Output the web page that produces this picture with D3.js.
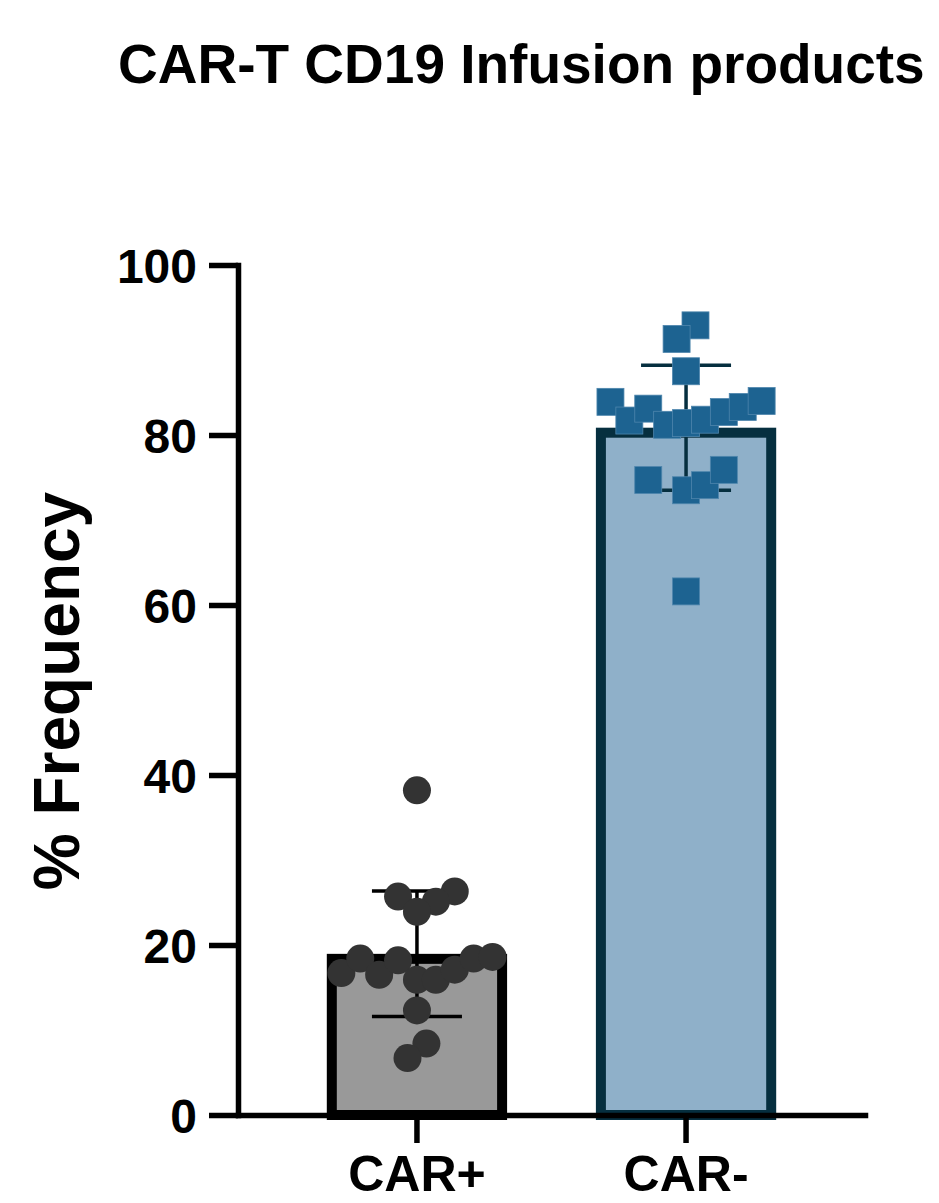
<!DOCTYPE html>
<html>
<head>
<meta charset="utf-8">
<script src="https://cdn.jsdelivr.net/npm/d3@7"></script>
<style>
  body { margin: 0; background: #fff; }
  svg text { font-family: "Liberation Sans", Arial, sans-serif; font-weight: bold; }
</style>
</head>
<body>
<svg id="chart" width="939" height="1203"></svg>
<script>
var categories = ["CAR+", "CAR-"];

// % frequency of each infusion product
var carPos = [38.2, 25.7, 26.3, 25.1, 23.9, 16.7, 18.4, 16.5, 18.2, 15.9, 15.9, 17.1, 18.4, 18.6, 12.3, 8.4, 6.7];
var carNeg = [92.9, 91.3, 87.5, 83.9, 81.7, 83.1, 81.2, 81.4, 81.8, 82.7, 83.3, 84.0, 74.7, 73.5, 74.1, 75.9, 61.6];

// scatter spread slot of each point (GraphPad style column scatter)
var carPosSlot = [0, -1, 2, 1, 0, -4, -3, -2, -1, 0, 1, 2, 3, 4, 0, 0.5, -0.5];
var carNegSlot = [0.5, -0.5, 0, -4, -3, -2, -1, 0, 1, 2, 3, 4, -2, 0, 1, 2, 0];

var yTicks = [0, 20, 40, 60, 80, 100];

var groups = [
  { name: categories[0], values: carPos, slots: carPosSlot, fill: "#999999", stroke: "#000000", dot: "#333333", shape: "circle" },
  { name: categories[1], values: carNeg, slots: carNegSlot, fill: "#8fb0c9", stroke: "#062f3f", dot: "#1d6391", shape: "square" }
];

var svg = d3.select("#chart");

var x = d3.scaleBand()
  .domain(categories)
  .range([238, 865])
  .paddingInner(0.33)
  .paddingOuter(0.33);

var y = d3.scaleLinear().domain([0, 100]).range([1115, 265]);

var slotX = d3.scaleLinear().domain([-1, 1]).range([-18.9, 18.9]);

// title
svg.append("text")
  .attr("x", 118)
  .attr("y", 83)
  .attr("font-size", 55)
  .text("CAR-T CD19 Infusion products");

// y label
svg.append("text")
  .attr("transform", "translate(79," + 691 + ") rotate(-90)")
  .attr("text-anchor", "middle")
  .attr("font-size", 64)
  .text("% Frequency");

var bw = 10;
groups.forEach(function (g) {
  var m = d3.mean(g.values);
  var sd = d3.deviation(g.values);
  var cx = x(g.name) + x.bandwidth() / 2;

  // bar, border drawn inside
  svg.append("rect")
    .attr("x", x(g.name) + bw / 2)
    .attr("y", y(m) + bw / 2)
    .attr("width", x.bandwidth() - bw)
    .attr("height", y(0) - y(m) - bw / 2)
    .attr("fill", g.fill)
    .attr("stroke", g.stroke)
    .attr("stroke-width", bw);

  // error bar (mean +/- SD)
  var eb = svg.append("g").attr("stroke", g.stroke).attr("stroke-width", 3.5);
  eb.append("line").attr("x1", cx).attr("x2", cx).attr("y1", y(m - sd)).attr("y2", y(m + sd));
  [m - sd, m + sd].forEach(function (v) {
    eb.append("line").attr("x1", cx - 45).attr("x2", cx + 45).attr("y1", y(v)).attr("y2", y(v));
  });

  // points
  var pts = g.values.map(function (v, i) { return { v: v, s: g.slots[i] }; });
  var gp = svg.append("g").attr("fill", g.dot);
  if (g.shape === "circle") {
    gp.selectAll("circle").data(pts).join("circle")
      .attr("cx", function (d) { return cx + slotX(d.s); })
      .attr("cy", function (d) { return y(d.v); })
      .attr("r", 14);
  } else {
    var s = 27;
    gp.selectAll("rect").data(pts).join("rect")
      .attr("x", function (d) { return cx + slotX(d.s) - s / 2; })
      .attr("y", function (d) { return y(d.v) - s / 2; })
      .attr("width", s)
      .attr("height", s)
      .attr("stroke", "#4f86ad")
      .attr("stroke-width", 0.8);
  }
});

// axes
var yAxis = svg.append("g")
  .attr("transform", "translate(238,0)")
  .call(d3.axisLeft(y).tickValues(yTicks).tickSize(29).tickSizeOuter(0).tickPadding(12));

var xAxis = svg.append("g")
  .attr("transform", "translate(0,1115)")
  .call(d3.axisBottom(x).tickSize(28).tickSizeOuter(0).tickPadding(12));

[yAxis, xAxis].forEach(function (a) {
  a.select(".domain").attr("stroke", "#000").attr("stroke-width", 5.5).attr("stroke-linecap", "square");
  a.selectAll(".tick line").attr("stroke", "#000").attr("stroke-width", 5.5);
  a.selectAll("text").attr("fill", "#000").attr("font-family", "Liberation Sans, Arial, sans-serif").attr("font-weight", "bold");
});
yAxis.selectAll("text").attr("font-size", 48).attr("dy", "0.36em");
xAxis.selectAll("text").attr("font-size", 50).attr("dy", "0.72em");
</script>
</body>
</html>
